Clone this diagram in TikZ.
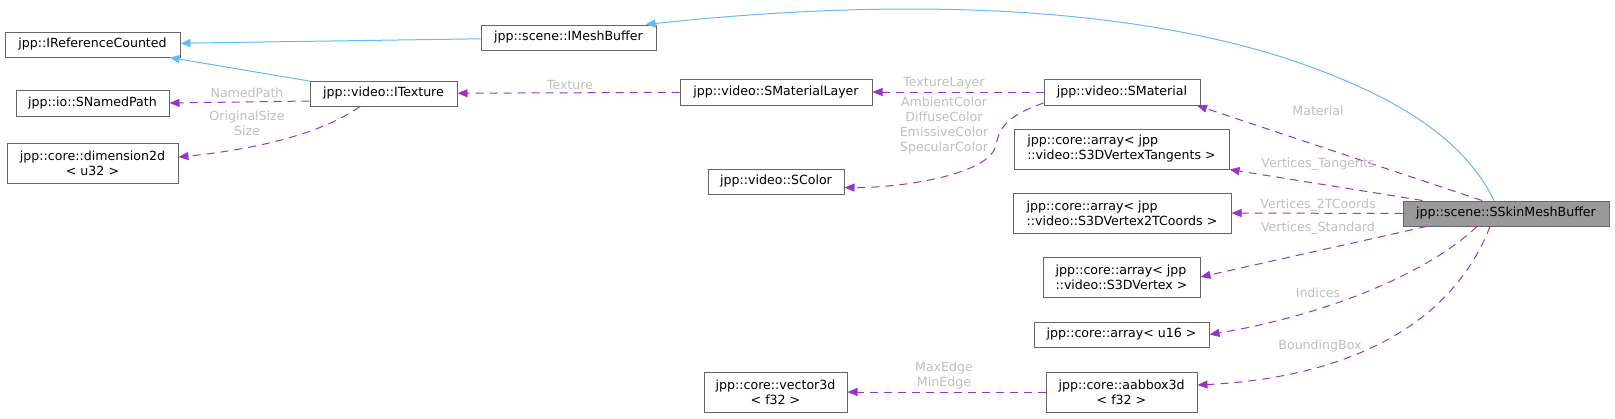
\documentclass[tikz,border=0pt]{standalone}
\usepackage{fontspec}
\setmainfont{DejaVu Sans}
\usetikzlibrary{arrows.meta}

\definecolor{boxline}{HTML}{666666}
\definecolor{curfill}{HTML}{999999}
\definecolor{inhcol}{HTML}{63B8FF}
\definecolor{usecol}{HTML}{9A32CD}
\definecolor{lblcol}{HTML}{BEBEBE}

\tikzset{cls/.style={draw=boxline, line width=1pt, fill=white, font=\fontsize{12.6}{15}\selectfont, inner sep=0pt, minimum height=25pt, align=center}}
\tikzset{cur/.style={cls, fill=curfill}}
\tikzset{inherit/.style={draw=inhcol, line width=1pt, -{Triangle[length=10pt,width=8pt]}}}
\tikzset{usage/.style={draw=usecol, line width=1pt, dash pattern=on 8pt off 6pt, -{Triangle[length=10pt,width=8pt]}}}
\tikzset{lbl/.style={text=lblcol, font=\fontsize{12.6}{15}\selectfont, align=center, inner sep=0pt}}

\begin{document}
\begin{tikzpicture}[x=1pt, y=-1pt]
            \useasboundingbox (0,0) rectangle (1615,418);

            % Les classes
            \node[cur, minimum width=206pt] (SSkin) at (1506,213.5) {jpp::scene::SSkinMeshBuffer};
            \node[cls, minimum width=175pt] (IMeshBuf) at (568.5,37.5) {jpp::scene::IMeshBuffer};
            \node[cls, minimum width=175pt] (IRefCnt) at (92.5,44.5) {jpp::IReferenceCounted};
            \node[cls, minimum width=147pt] (ITexture) at (383.5,93.5) {jpp::video::ITexture};
            \node[cls, minimum width=153pt, minimum height=26pt] (SNamedPath) at (92.5,103) {jpp::io::SNamedPath};
            \node[cls, minimum width=171pt, minimum height=40pt] (Dim2d) at (92.5,163) {jpp::core::dimension2d\\< u32 >};
            \node[cls, minimum width=192pt, minimum height=26pt] (SMatLayer) at (776,92) {jpp::video::SMaterialLayer};
            \node[cls, minimum width=136pt] (SColor) at (776,181.5) {jpp::video::SColor};
            \node[cls, minimum width=156pt, minimum height=26pt] (SMaterial) at (1122,92) {jpp::video::SMaterial};
            \node[cls, minimum width=215pt, minimum height=40pt, align=left] (ArrTan) at (1121.5,149) {jpp::core::array< jpp\\::video::S3DVertexTangents >};
            \node[cls, minimum width=218pt, minimum height=40pt, align=left] (Arr2TC) at (1122,213) {jpp::core::array< jpp\\::video::S3DVertex2TCoords >};
            \node[cls, minimum width=157pt, minimum height=40pt, align=left] (ArrVtx) at (1121.5,277) {jpp::core::array< jpp\\::video::S3DVertex >};
            \node[cls, minimum width=175pt] (ArrU16) at (1121.5,334.5) {jpp::core::array< u16 >};
            \node[cls, minimum width=151pt, minimum height=40pt] (AABBox) at (1121.5,392) {jpp::core::aabbox3d\\< f32 >};
            \node[cls, minimum width=143pt, minimum height=40pt] (Vec3d) at (775.5,392) {jpp::core::vector3d\\< f32 >};

            % Héritage
            \draw[inherit] (IMeshBuf) -- (IRefCnt);
            \draw[inherit] (ITexture) -- (IRefCnt);
            \draw[inherit] ([xshift=-12pt]SSkin.north) .. controls (1462,135) and (1390,95) .. (1300,63)
                .. controls (1160,15) and (950,-8) .. ([xshift=-11pt]IMeshBuf.north east);

            % Membres
            \draw[usage] ([xshift=-24pt]SSkin.north) -- ([xshift=75pt]SMaterial.south);
            \draw[usage] ([xshift=20pt]SSkin.north west) -- (ArrTan.south east);
            \draw[usage] (SSkin.west) -- (Arr2TC.east);
            \draw[usage] ([xshift=24pt]SSkin.south west) -- (ArrVtx.east);
            \draw[usage] ([xshift=-29pt]SSkin.south) .. controls (1420,280) and (1310,318) .. (ArrU16.east);
            \draw[usage] ([xshift=-16pt]SSkin.south) .. controls (1450,330) and (1340,378) .. ([yshift=7pt]AABBox.east);
            \draw[usage] (SMaterial) -- (SMatLayer);
            \draw[usage] ([yshift=-11pt]SMaterial.west) .. controls (1010,115) and (1000,125) .. (996,145)
                .. controls (990,175) and (900,188) .. ([yshift=-6pt]SColor.east);
            \draw[usage] (SMatLayer) -- (ITexture);
            \draw[usage] ([yshift=-7.5pt]ITexture.west) -- (SNamedPath.east);
            \draw[usage] ([xshift=-23.5pt]ITexture.south) .. controls (320,135) and (250,150) .. ([yshift=6pt]Dim2d.east);
            \draw[usage] (AABBox) -- (Vec3d);

            % Étiquettes
            \node[lbl] (lMaterial) at (1318,111) {Material};
            \node[lbl] (lTan) at (1318,164) {Vertices\_Tangents};
            \node[lbl] (l2TC) at (1318,205) {Vertices\_2TCoords};
            \node[lbl] (lStd) at (1318,228) {Vertices\_Standard};
            \node[lbl] (lIdx) at (1318,293) {Indices};
            \node[lbl] (lBox) at (1320,346) {BoundingBox};
            \node[lbl] (lTexLayer) at (944,83) {TextureLayer};
            \node[lbl] (lColors) at (944,125.5) {AmbientColor\\DiffuseColor\\EmissiveColor\\SpecularColor};
            \node[lbl] (lTexture) at (570,85) {Texture};
            \node[lbl] (lNamed) at (247,93) {NamedPath};
            \node[lbl] (lSize) at (247,123) {OriginalSize\\Size};
            \node[lbl] (lEdge) at (944,376) {MaxEdge\\MinEdge};
        \end{tikzpicture}
\end{document}
